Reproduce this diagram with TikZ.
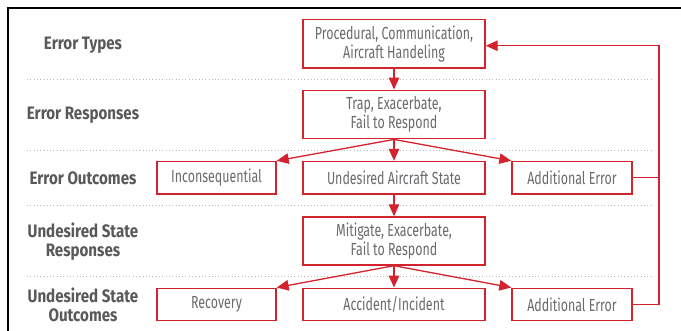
\documentclass[tikz,border=0pt]{standalone}
\usepackage{fontspec}
\setmainfont{Fira Sans}[FakeStretch=0.71]
\newfontfamily\labelfont{Fira Sans}[FakeStretch=0.84]
\usetikzlibrary{arrows.meta}
\definecolor{tered}{HTML}{D2232E}
\definecolor{labgray}{HTML}{58595B}
\definecolor{boxgray}{HTML}{6A6B6E}
\tikzset{
  stagebox/.style={draw=tered, line width=1.4pt, fill=white, inner sep=0pt,
    align=center, text=boxgray, font=\fontsize{17.5}{19}\selectfont},
  tallbox/.style={stagebox, minimum width=182pt, minimum height=48.5pt},
  flatbox/.style={stagebox, minimum height=32.5pt},
  rowlabel/.style={align=center, text=labgray, font=\labelfont\fontsize{18}{19}\selectfont\bfseries},
  sep/.style={gray!55, line width=0.9pt, dash pattern=on 0.9pt off 2.4pt},
  flow/.style={draw=tered, line width=1.3pt, -{Triangle[length=12pt,width=10.5pt]}},
  loopline/.style={draw=tered, line width=1.3pt}
}
\begin{document}
\begin{tikzpicture}[x=1pt, y=-1pt]
  \useasboundingbox (0,0) rectangle (681,331);
  \fill[white] (0,0) rectangle (681,331);

  % outer frame
  \draw[black, line width=2.2pt] (8.3,331) -- (8.3,8.3) -- (681,8.3);

  % dotted separators between the stages
  \foreach \yy in {79,150,205.7,276} {
    \draw[sep] (27,\yy) -- (652,\yy);
  }

  % stage labels
  \node[rowlabel] (l1) at (83,45) {Error Types};
  \node[rowlabel] (l2) at (83,115) {Error Responses};
  \node[rowlabel] (l3) at (83,178.5) {Error Outcomes};
  \node[rowlabel] (l4) at (83,241.5) {Undesired State\\Responses};
  \node[rowlabel] (l5) at (83,305) {Undesired State\\Outcomes};

  % boxes
  \node[tallbox] (types) at (394,43.75) {Procedural, Communication,\\Aircraft Handeling};
  \node[tallbox] (resp) at (394,114.5) {Trap, Exacerbate,\\Fail to Respond};
  \node[flatbox, minimum width=119pt] (incon) at (216.5,177.75) {Inconsequential};
  \node[flatbox, minimum width=182pt] (uas) at (394,177.75) {Undesired Aircraft State};
  \node[flatbox, minimum width=120pt] (adderr1) at (572,177.75) {Additional Error};
  \node[tallbox, minimum height=48pt] (usresp) at (394,241) {Mitigate, Exacerbate,\\Fail to Respond};
  \node[flatbox, minimum width=119pt] (recov) at (216.5,304.5) {Recovery};
  \node[flatbox, minimum width=182pt] (accid) at (394,304.5) {Accident/Incident};
  \node[flatbox, minimum width=120pt] (adderr2) at (572,304.5) {Additional Error};

  % flow arrows
  \draw[flow] (types.south) -- (resp.north);
  \draw[flow] (resp.south) -- (incon.north east);
  \draw[flow] (resp.south) -- (uas.north);
  \draw[flow] (resp.south) -- (adderr1.north west);
  \draw[flow] (uas.south) -- (usresp.north);
  \draw[flow] (usresp.south) -- (recov.north east);
  \draw[flow] (usresp.south) -- (accid.north);
  \draw[flow] (usresp.south) -- (adderr2.north west);

  % feedback loop back to the error types
  \coordinate (loopx) at (659,0);
  \draw[flow] (adderr2.east) -- (adderr2.east -| loopx) |- ([yshift=-2pt]types.east);
  \draw[loopline] (adderr1.east) -- (adderr1.east -| loopx);
\end{tikzpicture}
\end{document}
